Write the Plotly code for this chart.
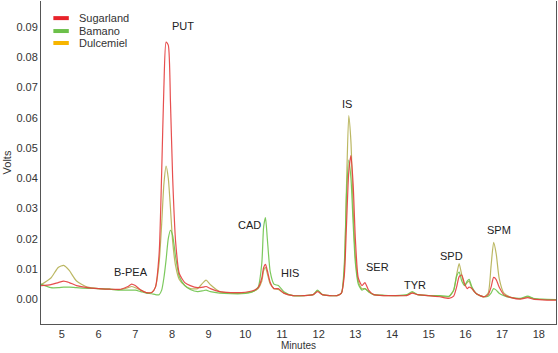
import plotly.graph_objects as go

minutes = [4.43, 4.7, 4.9, 5.05, 5.2, 5.4, 5.7, 6.0, 6.3, 6.6, 6.8, 6.9, 7.0, 7.15, 7.3, 7.45,
           7.55, 7.65, 7.72, 7.78, 7.84, 7.9, 7.96, 8.02, 8.1, 8.2, 8.35, 8.5, 8.7, 8.85, 8.93,
           9.05, 9.3, 9.6, 9.9, 10.2, 10.35, 10.45, 10.5, 10.55, 10.6, 10.68, 10.78, 10.9, 11.05,
           11.3, 11.6, 11.85, 11.97, 12.1, 12.3, 12.5, 12.62, 12.7, 12.76, 12.82, 12.88, 12.94,
           13.0, 13.08, 13.18, 13.26, 13.36, 13.5, 13.8, 14.1, 14.4, 14.55, 14.7, 15.0, 15.3,
           15.55, 15.68, 15.76, 15.83, 15.9, 15.98, 16.05, 16.1, 16.18, 16.3, 16.5, 16.62, 16.7,
           16.77, 16.84, 16.92, 17.05, 17.25, 17.5, 17.7, 17.85, 18.1, 18.47]

sugarland = [0.0045, 0.0048, 0.0055, 0.006, 0.0055, 0.0045, 0.0038, 0.0035, 0.0033, 0.0033,
             0.0042, 0.005, 0.0045, 0.003, 0.0022, 0.0022,
             0.004, 0.015, 0.042, 0.07, 0.085, 0.084, 0.065, 0.04, 0.019, 0.0085, 0.0055, 0.0045,
             0.0038, 0.004, 0.0042,
             0.0035, 0.0025, 0.0022, 0.0022, 0.0028, 0.0038, 0.007, 0.0105, 0.0115, 0.0095,
             0.0055, 0.0035, 0.0035, 0.002,
             0.0012, 0.0012, 0.0015, 0.0025, 0.0015, 0.0012, 0.0012, 0.002, 0.008, 0.025, 0.042,
             0.0475, 0.038,
             0.02, 0.007, 0.0045, 0.0055, 0.003, 0.0015, 0.0012, 0.0012, 0.0012, 0.002, 0.0015,
             0.0012, 0.0008,
             0.0003, 0.001, 0.004, 0.0075, 0.008, 0.005, 0.0035, 0.004, 0.0035, 0.0018, 0.0008,
             0.0015, 0.004,
             0.0072, 0.0065, 0.004, 0.0015, 0.0005, 0.0, 0.0005, 0.0, -0.0002, -0.0003]

bamano = [0.005, 0.0038, 0.0038, 0.004, 0.004, 0.0038, 0.0036, 0.0035, 0.0033, 0.003,
          0.003, 0.003, 0.003, 0.0025, 0.002, 0.0018,
          0.0015, 0.0015, 0.003, 0.007, 0.013, 0.02, 0.0228, 0.021, 0.014, 0.0075, 0.0045, 0.0032,
          0.0025, 0.0028, 0.003,
          0.0025, 0.002, 0.0018, 0.0018, 0.0025, 0.004, 0.012, 0.024, 0.027, 0.02,
          0.009, 0.005, 0.0045, 0.0025,
          0.0012, 0.0012, 0.0015, 0.003, 0.0015, 0.0012, 0.0012, 0.002, 0.012, 0.035, 0.046,
          0.04, 0.025,
          0.012, 0.005, 0.003, 0.0035, 0.0025, 0.0015, 0.0013, 0.0012, 0.0015, 0.0025, 0.0015,
          0.0012, 0.0012,
          0.001, 0.003, 0.0075, 0.009, 0.006, 0.0045, 0.006, 0.0066, 0.004, 0.0018, 0.0008,
          0.001, 0.002,
          0.0035, 0.003, 0.002, 0.0012, 0.0005, 0.0003, 0.001, 0.0003, 0.0, -0.0001]

dulcemiel = [0.0048, 0.007, 0.0105, 0.0112, 0.0095, 0.006, 0.004, 0.0035, 0.0033, 0.0032,
             0.0038, 0.0042, 0.0038, 0.003, 0.0022, 0.0022,
             0.004, 0.012, 0.025, 0.038, 0.044, 0.04, 0.03, 0.019, 0.011, 0.0065, 0.0045, 0.0035,
             0.0035, 0.0055, 0.0063,
             0.0048, 0.0025, 0.002, 0.002, 0.0025, 0.0035, 0.006, 0.0095, 0.0105, 0.0085,
             0.005, 0.0035, 0.0032, 0.002,
             0.0012, 0.0012, 0.0015, 0.0028, 0.0015, 0.0012, 0.0012, 0.002, 0.01, 0.038, 0.0607,
             0.052, 0.03,
             0.014, 0.006, 0.0035, 0.0035, 0.0025, 0.0015, 0.0012, 0.0012, 0.0013, 0.0022, 0.0015,
             0.0012, 0.001,
             0.0008, 0.003, 0.008, 0.0118, 0.008, 0.0045, 0.0055, 0.006, 0.0035, 0.0018, 0.0008,
             0.002, 0.011,
             0.0188, 0.015, 0.007, 0.002, 0.0006, 0.0002, 0.0008, 0.0002, -0.0001, -0.0002]

series_names = ["Sugarland", "Bamano", "Dulcemiel"]
legend_colors = ["#e8232a", "#6cc04a", "#f7b500"]
line_colors = ["rgba(228,60,60,0.9)", "rgba(110,195,75,0.9)", "rgba(175,170,70,0.85)"]

peak_labels = ["B-PEA", "PUT", "CAD", "HIS", "IS", "SER", "TYR", "SPD", "SPM"]
peak_x = [6.88, 8.3, 10.12, 11.22, 12.77, 13.61, 14.62, 15.63, 16.91]
peak_y = [0.0089, 0.0905, 0.0244, 0.0086, 0.0644, 0.0106, 0.0046, 0.0142, 0.0228]

FONT = "Liberation Sans, Arial"

fig = go.Figure()
data_by_name = {"Sugarland": sugarland, "Bamano": bamano, "Dulcemiel": dulcemiel}
for idx in [2, 1, 0]:
    fig.add_trace(go.Scatter(x=minutes, y=data_by_name[series_names[idx]], mode="lines",
                             name=series_names[idx],
                             line=dict(color=line_colors[idx], width=1.2, shape="spline", smoothing=0.6),
                             showlegend=False, hoverinfo="skip"))

# compact legend (swatch + label) in paper coordinates
legend_rows_y = [0.947, 0.907, 0.870]
for name, col, ry in zip(series_names, legend_colors, legend_rows_y):
    fig.add_shape(type="line", xref="paper", yref="paper", x0=0.024, x1=0.054, y0=ry, y1=ry,
                  line=dict(color=col, width=4))
    fig.add_annotation(xref="paper", yref="paper", x=0.07, y=ry, xanchor="left", yanchor="middle",
                       text=name, showarrow=False, font=dict(size=11, color="#333", family=FONT))

for lab, lx, ly in zip(peak_labels, peak_x, peak_y):
    fig.add_annotation(x=lx, y=ly, text=lab, showarrow=False,
                       font=dict(size=11, color="#222", family=FONT))

fig.update_layout(
    width=558, height=353,
    margin=dict(l=41, r=2, t=1, b=29),
    plot_bgcolor="white", paper_bgcolor="white",
    font=dict(family=FONT, size=11, color="#333"),
    showlegend=False,
    xaxis=dict(range=[4.43, 18.47], tickmode="array", tickvals=list(range(5, 19)),
               showgrid=False, zeroline=False, showline=True, linecolor="#555", linewidth=1,
               ticks="", tickfont=dict(size=11, color="#333"),
               title=dict(text="Minutes", font=dict(size=10, color="#333"), standoff=2)),
    yaxis=dict(range=[-0.0082, 0.0986], tickmode="array",
               tickvals=[0, 0.01, 0.02, 0.03, 0.04, 0.05, 0.06, 0.07, 0.08, 0.09],
               tickformat=".2f", showgrid=False, zeroline=False, showline=True, mirror=True,
               linecolor="#555", linewidth=1, ticks="", tickfont=dict(size=11, color="#333"),
               title=dict(text="Volts", font=dict(size=11, color="#333"), standoff=2)),
)

fig.write_html("out.html")
